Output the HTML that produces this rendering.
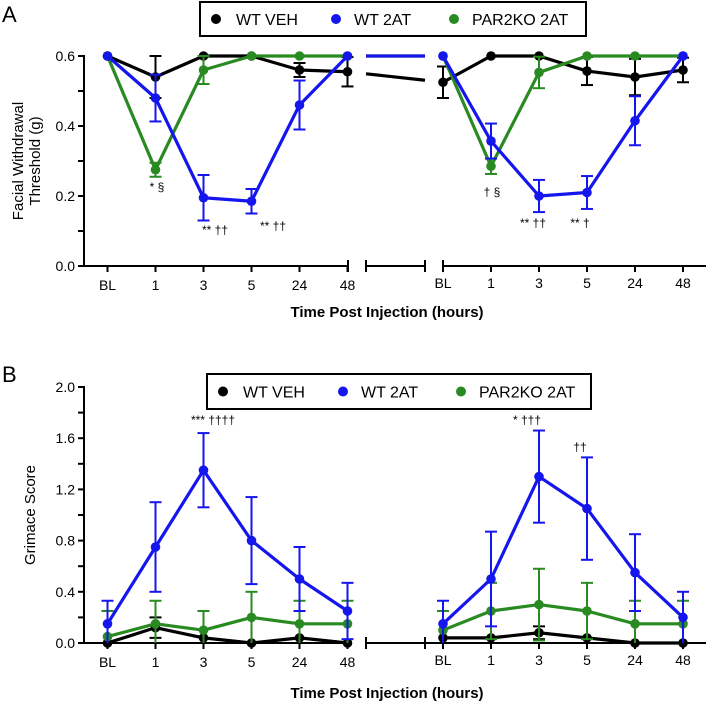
<!DOCTYPE html>
<html><head><meta charset="utf-8"><style>
body{margin:0;background:#fff;}
svg{display:block;font-family:"Liberation Sans",Arial,sans-serif;}
</style></head><body>
<svg id="chart" width="708" height="703" viewBox="0 0 708 703"></svg>
<script>
const categories=["BL","1","3","5","24","48"];
const seriesNames=["WT VEH","WT 2AT","PAR2KO 2AT"];
const colors=["#000000","#1515ee","#2a8a22"];
// Panel A values
const aVehL=[0.6,0.54,0.6,0.6,0.56,0.555];
const aVehLErr=[0,0.06,0,0,0.02,0.042];
const aVehR=[0.525,0.6,0.6,0.557,0.54,0.56];
const aVehRErr=[0.045,0,0,0.04,0.052,0.035];
const a2atL=[0.6,0.48,0.195,0.185,0.46,0.6];
const a2atLErr=[0,0.067,0.065,0.035,0.07,0];
const a2atR=[0.6,0.357,0.2,0.21,0.415,0.6];
const a2atRErr=[0,0.05,0.046,0.047,0.07,0];
const aKoL=[0.6,0.275,0.56,0.6,0.6,0.6];
const aKoLErr=[0,0.02,0.04,0,0,0];
const aKoR=[0.6,0.285,0.553,0.6,0.6,0.6];
const aKoRErr=[0,0.022,0.045,0,0,0];
const aTicks=[0,0.2,0.4,0.6];
// Panel B values
const bVehL=[0,0.12,0.04,0,0.04,0];
const bVehLErr=[0,0.08,0,0,0,0];
const bVehR=[0.04,0.04,0.08,0.04,0,0];
const bVehRErr=[0,0,0.05,0,0,0];
const b2atL=[0.15,0.75,1.35,0.8,0.5,0.25];
const b2atLErr=[0.18,0.35,0.29,0.34,0.25,0.22];
const b2atR=[0.15,0.5,1.3,1.05,0.55,0.2];
const b2atRErr=[0.18,0.37,0.36,0.4,0.3,0.2];
const bKoL=[0.05,0.15,0.1,0.2,0.15,0.15];
const bKoLErr=[0.2,0.18,0.15,0.2,0.18,0.18];
const bKoR=[0.1,0.25,0.3,0.25,0.15,0.15];
const bKoRErr=[0.15,0.22,0.28,0.22,0.18,0.18];
const bTicks=[0,0.4,0.8,1.2,1.6,2.0];

const svg=document.getElementById('chart');
const NS='http://www.w3.org/2000/svg';
function mk(tag,attrs,parent,text){const e=document.createElementNS(NS,tag);for(const k in attrs)e.setAttribute(k,attrs[k]);if(text!==undefined)e.textContent=text;(parent||svg).appendChild(e);return e;}
const xL=i=>107.5+i*48;
const xR=i=>443+i*48;

function panel(o){
  const g=mk('g',{});
  
  
  const y=v=>o.y0-(v/o.max)*(o.y0-o.yTop);
  const ax=mk('g',{stroke:'#000','stroke-width':2,fill:'none'},g);
  
  
  mk('line',{x1:84,y1:o.yTop-1,x2:84,y2:o.y0},ax);
  mk('line',{x1:83,y1:o.y0,x2:348,y2:o.y0},ax);
  if(o.endTick)mk('line',{x1:348,y1:o.y0-6,x2:348,y2:o.y0+6},ax);
  mk('line',{x1:366,y1:o.y0,x2:425,y2:o.y0},ax);
  mk('line',{x1:366,y1:o.y0-6,x2:366,y2:o.y0+6},ax);
  mk('line',{x1:425,y1:o.y0-6,x2:425,y2:o.y0+6},ax);
  mk('line',{x1:(o.endTick?443:425),y1:o.y0,x2:706,y2:o.y0},ax);
  if(o.endTick)mk('line',{x1:443,y1:o.y0-6,x2:443,y2:o.y0+6},ax);
  for(let v=0;v<=o.max+1e-9;v+=o.minor){mk('line',{x1:78,y1:y(v),x2:84,y2:y(v)},ax);}
  o.ticks.forEach(t=>{const tl=mk('text',{x:75,y:y(t)+5,'text-anchor':'end','font-size':14,fill:'#000'},g,t.toFixed(1));
    
    });
  categories.forEach((c,i)=>{[xL(i),xR(i)].forEach((x,k)=>{
    mk('line',{x1:x,y1:o.y0,x2:x,y2:o.y0+6,stroke:'#000','stroke-width':2},g);
    const tl=mk('text',{x:x,y:o.y0+(k?22:24),'text-anchor':'middle','font-size':14,fill:'#000'},g,c);
    
    });});
  const xt=mk('text',{x:387,y:o.xtitleY,'text-anchor':'middle','font-size':15,'font-weight':'bold',fill:'#000'},g,'Time Post Injection (hours)');
  
  
  const yt=mk('text',{transform:`translate(${o.ytX},${o.ytY}) rotate(-90)`,'text-anchor':'middle','font-size':15,fill:'#000'},g);
  
  
  o.ytitle.forEach((t,i)=>mk('tspan',{x:0,dy:i?17:0},yt,t));
  const pl=mk('text',{x:2,y:o.labelY,'font-size':22,fill:'#000'},g,o.letter);
  
  
  o.series.forEach(s=>{
    const sg=mk('g',{},g);
    
    
    const col=colors[s.c];
    [[s.L,s.LE,xL],[s.R,s.RE,xR]].forEach(([vals,errs,xf])=>{
      errs.forEach((e,i)=>{if(e>0){const x=xf(i);
        const lo=Math.max(0,vals[i]-e),hi=vals[i]+e;
        mk('line',{x1:x,y1:y(lo),x2:x,y2:y(hi),stroke:col,'stroke-width':2},sg);
        mk('line',{x1:x-6,y1:y(hi),x2:x+6,y2:y(hi),stroke:col,'stroke-width':2},sg);
        if(vals[i]-e>0)mk('line',{x1:x-6,y1:y(lo),x2:x+6,y2:y(lo),stroke:col,'stroke-width':2},sg);}});
      mk('polyline',{points:vals.map((v,i)=>xf(i)+','+y(v)).join(' '),fill:'none',stroke:col,'stroke-width':3.2,'stroke-linejoin':'round'},sg);
      vals.forEach((v,i)=>{const c=mk('circle',{cx:xf(i),cy:y(v),r:4.8,fill:col},sg);
        
        });
    });
    if(o.bridge){const v1=s.L[5],v2=s.R[0],x1=xL(5),x2=xR(0);
      const f=x=>v1+(v2-v1)*(x-x1)/(x2-x1);
      mk('line',{x1:366,y1:y(f(366)),x2:425,y2:y(f(425)),stroke:col,'stroke-width':3.2},sg);}
  });
  o.notes.forEach(n=>{const t=mk('text',{x:n[0],y:n[1],'text-anchor':'middle','font-size':12,fill:'#000'},g,n[2]);
    
    });
  const lg=mk('g',{},g);
  
  
  mk('rect',{x:o.leg[0],y:o.leg[1],width:o.leg[2],height:o.leg[3],fill:'#fff',stroke:'#000','stroke-width':2},lg);
  const offs=[[16,36],[136,154],[254,272]];
  seriesNames.forEach((n,i)=>{const cy=o.leg[1]+o.leg[3]/2;
    const e=mk('g',{},lg);
    
    
    mk('circle',{cx:o.leg[0]+offs[i][0],cy:cy,r:5,fill:colors[i]},e);
    mk('text',{x:o.leg[0]+offs[i][1],y:cy+6,'font-size':16,fill:'#000'},e,n);});
}
panel({name:'panel-a-facial-withdrawal',letter:'A',labelY:22,y0:266,yTop:56,max:0.6,minor:0.1,ticks:aTicks,endTick:true,
  xtitleY:317,ytitle:['Facial Withdrawal','Threshold (g)'],ytX:23,ytY:161,bridge:true,
  leg:[200,2,386,34],
  series:[{c:0,L:aVehL,LE:aVehLErr,R:aVehR,RE:aVehRErr},{c:2,L:aKoL,LE:aKoLErr,R:aKoR,RE:aKoRErr},{c:1,L:a2atL,LE:a2atLErr,R:a2atR,RE:a2atRErr}],
  notes:[[157,191,'* §'],[215,234,'** ††'],[273,230,'** ††'],[492,196,'† §'],[533,227,'** ††'],[580,227,'** †']]});
panel({name:'panel-b-grimace',letter:'B',labelY:382,y0:643,yTop:387,max:2.0,minor:0.2,ticks:bTicks,endTick:false,
  xtitleY:698,ytitle:['Grimace Score'],ytX:35,ytY:515,bridge:false,
  leg:[207,374,384,35],
  series:[{c:0,L:bVehL,LE:bVehLErr,R:bVehR,RE:bVehRErr},{c:2,L:bKoL,LE:bKoLErr,R:bKoR,RE:bKoRErr},{c:1,L:b2atL,LE:b2atLErr,R:b2atR,RE:b2atRErr}],
  notes:[[213,424,'*** ††††'],[527,424,'* †††'],[580,451,'††']]});
</script>
</body></html>
